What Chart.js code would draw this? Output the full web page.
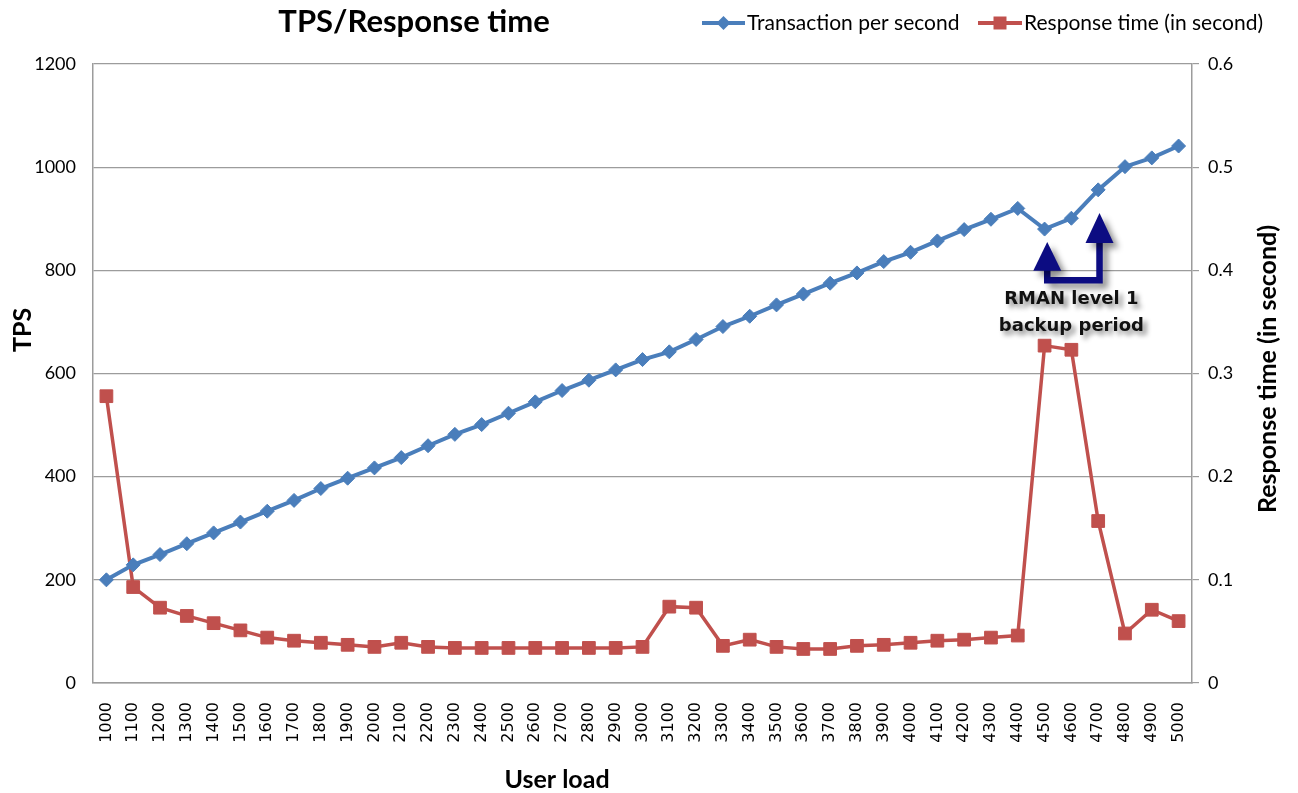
<!DOCTYPE html>
<html>
<head>
<meta charset="utf-8">
<title>TPS/Response time</title>
<script src="https://cdn.jsdelivr.net/npm/chart.js@4/dist/chart.umd.min.js"></script>
<style>
  html, body { margin: 0; padding: 0; background: #fff; }
  #wrap { position: relative; width: 1298px; height: 793px; }
</style>
</head>
<body>
<div id="wrap"><canvas id="tpsChart"></canvas></div>
<script>
// user load categories (x axis)
const userLoad = ['1000','1100','1200','1300','1400','1500','1600','1700','1800','1900',
  '2000','2100','2200','2300','2400','2500','2600','2700','2800','2900',
  '3000','3100','3200','3300','3400','3500','3600','3700','3800','3900',
  '4000','4100','4200','4300','4400','4500','4600','4700','4800','4900','5000'];

// transactions per second (left axis)
const tps = [200, 229, 249, 270, 291, 312, 333, 354, 377, 397,
  417, 437, 460, 482, 501, 523, 545, 567, 587, 607,
  627, 642, 666, 691, 711, 733, 754, 775, 795, 817,
  835, 857, 879, 899, 920, 880, 901, 956, 1001, 1018, 1041];

// response time in seconds (right axis)
const responseTime = [0.278, 0.093, 0.073, 0.065, 0.058, 0.051, 0.044, 0.041, 0.039, 0.037,
  0.035, 0.039, 0.035, 0.034, 0.034, 0.034, 0.034, 0.034, 0.034, 0.034,
  0.035, 0.074, 0.073, 0.036, 0.042, 0.035, 0.033, 0.033, 0.036, 0.037,
  0.039, 0.041, 0.042, 0.044, 0.046, 0.327, 0.323, 0.157, 0.048, 0.071, 0.060];

const tpsTicks = [0, 200, 400, 600, 800, 1000, 1200];
const rtTicks = [0, 0.1, 0.2, 0.3, 0.4, 0.5, 0.6];

const BLUE = '#4a7ebb';
const RED = '#c0504d';
const GRID = '#9c9c9c';
const NAVY = '#0c0c82';

// callout "RMAN level 1 backup period" (x = category index, y = TPS units)
const calloutLines = ['RMAN level 1', 'backup period'];

// texts drawn by hand: chart title, legend, axis titles, callout
const decorPlugin = {
  id: 'decor',
  afterDraw(chart) {
    const ctx = chart.ctx;
    const x = chart.scales.x;
    const y = chart.scales.y;

    ctx.save();
    ctx.fillStyle = '#000';

    // title
    ctx.font = 'bold 31px Lato';
    ctx.textAlign = 'center';
    ctx.textBaseline = 'alphabetic';
    ctx.fillText('TPS/Response time', 414, 32);

    // legend
    ctx.font = '21px Lato';
    ctx.textAlign = 'left';
    drawLegendItem(ctx, 702, 745, 23, BLUE, 'rectRot');
    ctx.fillText('Transaction per second', 747, 30);
    drawLegendItem(ctx, 978, 1022, 23, RED, 'rect');
    ctx.fillStyle = '#000';
    ctx.fillText('Response time (in second)', 1024, 30);

    // axis titles
    ctx.font = 'bold 25px Lato';
    ctx.textAlign = 'center';
    ctx.fillText('User load', 557, 788);

    ctx.save();
    ctx.translate(31, 330);
    ctx.rotate(-Math.PI / 2);
    ctx.fillText('TPS', 0, 0);
    ctx.restore();

    ctx.save();
    ctx.translate(1276, 369);
    ctx.rotate(-Math.PI / 2);
    ctx.fillText('Response time (in second)', 0, 0);
    ctx.restore();

    // arrows
    const lx = x.getPixelForValue(35.1);
    const rx = x.getPixelForValue(37.05);
    const barY = y.getPixelForValue(781);
    const lBase = y.getPixelForValue(801), lTip = y.getPixelForValue(855);
    const rBase = y.getPixelForValue(855), rTip = y.getPixelForValue(911);

    ctx.save();
    ctx.shadowColor = 'rgba(0,0,0,0.45)';
    ctx.shadowBlur = 6;
    ctx.shadowOffsetX = 5;
    ctx.shadowOffsetY = 5;
    ctx.strokeStyle = NAVY;
    ctx.fillStyle = NAVY;
    ctx.lineWidth = 6.5;
    ctx.lineJoin = 'miter';
    ctx.beginPath();
    ctx.moveTo(lx, lBase);
    ctx.lineTo(lx, barY);
    ctx.lineTo(rx, barY);
    ctx.lineTo(rx, rBase);
    ctx.stroke();
    [[lx, lBase, lTip], [rx, rBase, rTip]].forEach(a => {
      ctx.beginPath();
      ctx.moveTo(a[0] - 14, a[1] + 1);
      ctx.lineTo(a[0], a[2]);
      ctx.lineTo(a[0] + 14, a[1] + 1);
      ctx.closePath();
      ctx.fill();
    });
    ctx.restore();

    // callout text
    ctx.save();
    ctx.font = 'bold 18px "DejaVu Sans"';
    ctx.textAlign = 'center';
    ctx.textBaseline = 'middle';
    ctx.fillStyle = '#111';
    ctx.shadowColor = 'rgba(0,0,0,0.45)';
    ctx.shadowBlur = 5;
    ctx.shadowOffsetX = 4;
    ctx.shadowOffsetY = 4;
    const cx = x.getPixelForValue(36);
    ctx.fillText(calloutLines[0], cx, y.getPixelForValue(744));
    ctx.fillText(calloutLines[1], cx, y.getPixelForValue(692));
    ctx.restore();

    ctx.restore();
  }
};

function drawLegendItem(ctx, x1, x2, yy, color, style) {
  ctx.save();
  ctx.strokeStyle = color;
  ctx.fillStyle = color;
  ctx.lineWidth = 4;
  ctx.beginPath();
  ctx.moveTo(x1, yy);
  ctx.lineTo(x2, yy);
  ctx.stroke();
  const mx = (x1 + x2) / 2;
  ctx.beginPath();
  if (style === 'rect') {
    ctx.rect(mx - 6.5, yy - 6.5, 13, 13);
  } else {
    ctx.moveTo(mx - 7, yy);
    ctx.lineTo(mx, yy - 7);
    ctx.lineTo(mx + 7, yy);
    ctx.lineTo(mx, yy + 7);
    ctx.closePath();
  }
  ctx.fill();
  ctx.restore();
}

new Chart(document.getElementById('tpsChart'), {
  type: 'line',
  data: {
    labels: userLoad,
    datasets: [
      {
        label: 'Transaction per second',
        data: tps,
        yAxisID: 'y',
        borderColor: BLUE,
        backgroundColor: BLUE,
        borderWidth: 4,
        pointStyle: 'rectRot',
        pointRadius: 7,
        pointBorderWidth: 1,
        tension: 0,
        order: 1
      },
      {
        label: 'Response time (in second)',
        data: responseTime,
        yAxisID: 'y1',
        borderColor: RED,
        backgroundColor: RED,
        borderWidth: 3.5,
        pointStyle: 'rect',
        pointRadius: 9,
        pointBorderWidth: 1,
        tension: 0,
        order: 2
      }
    ]
  },
  options: {
    responsive: true,
    maintainAspectRatio: false,
    animation: false,
    layout: { padding: { top: 64, left: 0, right: 0, bottom: 0 } },
    plugins: {
      legend: { display: false },
      title: { display: false },
      tooltip: { enabled: false }
    },
    scales: {
      x: {
        offset: true,
        grid: { drawOnChartArea: false, drawTicks: false },
        border: { color: GRID, width: 1.5 },
        ticks: {
          autoSkip: false,
          minRotation: 90,
          maxRotation: 90,
          padding: 19,
          color: '#000',
          font: { family: '"DejaVu Sans", Verdana, sans-serif', size: 16 }
        },
        afterFit: s => { s.height = 110; }
      },
      y: {
        position: 'left',
        min: 0,
        max: 1200,
        afterBuildTicks: s => { s.ticks = tpsTicks.map(v => ({ value: v })); },
        grid: { color: GRID, lineWidth: 1.2, drawTicks: false },
        border: { color: GRID, width: 1.5 },
        ticks: {
          padding: 17,
          color: '#000',
          font: { family: 'Lato', size: 18 },
          callback: v => String(v)
        },
        afterFit: s => { s.width = 93; }
      },
      y1: {
        position: 'right',
        min: 0,
        max: 0.6,
        afterBuildTicks: s => { s.ticks = rtTicks.map(v => ({ value: v })); },
        grid: { drawOnChartArea: false, color: GRID, tickLength: 7, lineWidth: 1.2 },
        border: { color: GRID, width: 1.5 },
        ticks: {
          padding: 9,
          color: '#000',
          font: { family: 'Lato', size: 18 },
          callback: v => String(Math.round(v * 10) / 10)
        },
        afterFit: s => { s.width = 106; }
      }
    }
  },
  plugins: [decorPlugin]
});
</script>
</body>
</html>
